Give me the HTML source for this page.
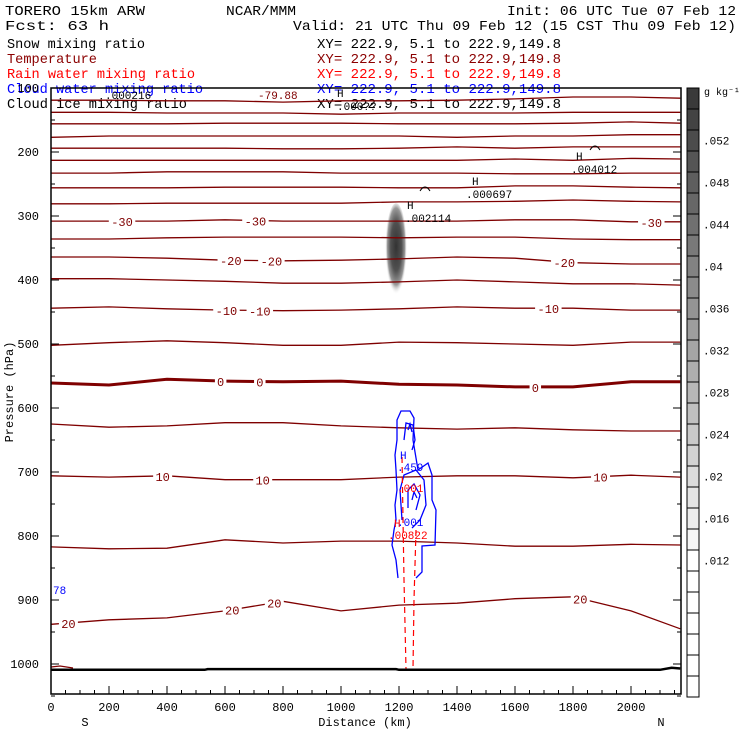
<!DOCTYPE html>
<html><head><meta charset="utf-8"><style>
html,body{margin:0;padding:0;background:#fff;}
svg{display:block;font-family:"Liberation Mono",monospace;}
</style></head><body>
<svg id="chart" width="740" height="740" viewBox="0 0 740 740" xmlns="http://www.w3.org/2000/svg">
<g font-size="14">
<text x="5" y="15" textLength="140" lengthAdjust="spacingAndGlyphs">TORERO  15km ARW</text>
<text x="226" y="15" textLength="70" lengthAdjust="spacingAndGlyphs">NCAR/MMM</text>
<text x="507" y="15" textLength="229" lengthAdjust="spacingAndGlyphs">Init: 06 UTC Tue 07 Feb 12</text>
<text x="5" y="30" textLength="104" lengthAdjust="spacingAndGlyphs">Fcst:   63 h</text>
<text x="293" y="30" textLength="443" lengthAdjust="spacingAndGlyphs">Valid: 21 UTC Thu 09 Feb 12 (15 CST Thu 09 Feb 12)</text>
<text x="7" y="48" textLength="138" lengthAdjust="spacingAndGlyphs">Snow mixing ratio</text>
<text x="317" y="48" textLength="244" lengthAdjust="spacingAndGlyphs">XY= 222.9,  5.1 to 222.9,149.8</text>
<text x="7" y="63" fill="#8b0000" textLength="90" lengthAdjust="spacingAndGlyphs">Temperature</text>
<text x="317" y="63" fill="#8b0000" textLength="244" lengthAdjust="spacingAndGlyphs">XY= 222.9,  5.1 to 222.9,149.8</text>
<text x="7" y="78" fill="#ff0000" textLength="188" lengthAdjust="spacingAndGlyphs">Rain water mixing ratio</text>
<text x="317" y="78" fill="#ff0000" textLength="244" lengthAdjust="spacingAndGlyphs">XY= 222.9,  5.1 to 222.9,149.8</text>
<text x="7" y="93" fill="#0000ff" textLength="196" lengthAdjust="spacingAndGlyphs">Cloud water mixing ratio</text>
<text x="317" y="93" fill="#0000ff" textLength="244" lengthAdjust="spacingAndGlyphs">XY= 222.9,  5.1 to 222.9,149.8</text>
<text x="7" y="108" textLength="180" lengthAdjust="spacingAndGlyphs">Cloud ice mixing ratio</text>
<text x="317" y="108" textLength="244" lengthAdjust="spacingAndGlyphs">XY= 222.9,  5.1 to 222.9,149.8</text>
</g>
<defs>
<radialGradient id="snowg" cx="0.5" cy="0.45" r="0.5">
<stop offset="0" stop-color="#333"/><stop offset="0.5" stop-color="#505050"/><stop offset="0.8" stop-color="#999"/><stop offset="1" stop-color="#fff" stop-opacity="0"/>
</radialGradient>
</defs>
<g id="plot"></g>
<g id="axes"></g>
<g id="cbar"></g>
</svg>
<script>
const NS="http://www.w3.org/2000/svg";
const distances=[0,200,400,600,800,1000,1200,1400,1600,1800,2000,2170];
const tempLevels=[-75,-70,-65,-60,-55,-50,-45,-40,-35,-30,-25,-20,-15,-10,-5,0,5,10,15,20];
const isoPressures=[
[119,119,120,120,122,120,120,119,117,114,114,116],
[138,138,139,139,139,141,139,139,139,138,138,138],
[156,156,156,155,155,155,156,156,156,155,153,155],
[177,175,175,175,175,175,175,177,175,175,173,173],
[194,194,194,194,195,195,194,192,194,192,192,192],
[213,213,213,213,213,213,213,213,211,213,210,211],
[233,233,231,231,231,233,233,233,234,234,233,233],
[256,256,256,255,255,255,256,256,253,253,255,256],
[281,281,280,280,280,280,278,278,277,275,277,278],
[308,308,308,306,308,308,308,308,306,306,309,309],
[336,336,334,333,333,333,334,333,333,336,337,337],
[364,364,366,369,370,369,367,364,366,373,375,375],
[398,398,400,402,405,405,403,400,403,406,406,408],
[444,442,445,447,448,447,445,442,444,444,447,447],
[502,498,495,498,502,502,497,498,500,502,497,497],
[561,564,555,558,559,558,563,564,567,567,559,559],
[625,630,628,623,623,628,631,633,631,634,636,636],
[706,708,706,712,712,712,708,706,706,709,705,708],
[817,820,819,806,811,808,808,811,816,816,813,814],
[938,931,928,917,902,917,908,905,898,895,917,945]];
const isoLabelTemp=[-30,-30,-30,-20,-20,-20,-10,-10,-10,0,0,0,10,10,10,20,20,20,20];
const isoLabelDist=[245,705,2070,620,760,1770,605,720,1715,585,720,1670,385,730,1895,60,625,770,1825];
const surfaceDist=[0,530,540,1190,1200,2100,2140,2170];
const surfaceP=[1009,1009,1008,1008,1009,1009,1006,1007];
const pTicks=[100,200,300,400,500,600,700,800,900,1000];
const dTicks=[0,200,400,600,800,1000,1200,1400,1600,1800,2000];
const cbarLabels=[".052",".048",".044",".04",".036",".032",".028",".024",".02",".016",".012"];
const cbarValues=[0.052,0.048,0.044,0.04,0.036,0.032,0.028,0.024,0.02,0.016,0.012];

const X0=51,X1=681,Y0=88,Y1=694;
const xS=d=>X0+d*0.29;
const yS=p=>Y0+(p-100)*0.64;
const plot=document.getElementById('plot'),axes=document.getElementById('axes'),cb=document.getElementById('cbar');
function mk(t,a,parent){const e=document.createElementNS(NS,t);for(const k in a)e.setAttribute(k,a[k]);(parent||plot).appendChild(e);return e;}
function interpP(i,d){const ds=distances,ps=isoPressures[i];for(let k=0;k<ds.length-1;k++){if(d>=ds[k]&&d<=ds[k+1]){const f=(d-ds[k])/(ds[k+1]-ds[k]);return ps[k]+f*(ps[k+1]-ps[k]);}}return ps[ps.length-1];}

const snow=mk('ellipse',{cx:xS(1190),cy:yS(355),rx:11,ry:48,fill:'url(#snowg)'});



tempLevels.forEach((t,i)=>{
  const pts=distances.map((d,k)=>xS(d).toFixed(1)+','+yS(isoPressures[i][k]).toFixed(1)).join(' ');
  const pl=mk('polyline',{points:pts,fill:'none',stroke:'#7f0000','stroke-width':t===0?3:1.3});
  
  
});
isoLabelTemp.forEach((t,j)=>{
  const i=tempLevels.indexOf(t),d=isoLabelDist[j],x=xS(d),y=yS(interpP(i,d));
  const s=String(t),w=s.length*7.5+4;
  const r=mk('rect',{x:x-w/2,y:y-6,width:w,height:12,fill:'#fff'});
  
  
  const tx=mk('text',{x:x,y:y+5,'text-anchor':'middle','font-size':12,fill:'#7f0000'});
  tx.textContent=s;
  
  
});

const cw=[
"398,578 396,560 392,545 394,530 396,520 395,505 397,490 396,470 395,455 397,440 397,420 401,411 410,411 414,418 413,440 418,470 428,463 432,475 432,500 436,510 435,545 422,546 422,572 416,578",
"404,440 406,423 413,425 415,440 412,450",
"408,430 410,424 412,432",
"402,520 400,490 404,475 416,470 424,480 426,505 420,520 412,528",
"408,508 408,490 414,484 420,495 416,510",
"412,500 414,492 417,498"];
cw.forEach((p,i)=>{const e=mk('polyline',{points:p,fill:'none',stroke:'#0000ff','stroke-width':1.3});

});
[["402,457 404,580 406,669"],["416,530 414,600 413,669"]].forEach(p=>{const e=mk('polyline',{points:p[0],fill:'none',stroke:'#ff0000','stroke-width':1.2,'stroke-dasharray':'6,4'});

});

const sp=surfaceDist.map((d,k)=>xS(d).toFixed(1)+','+yS(surfaceP[k]).toFixed(1)).join(' ');
const sf=mk('polyline',{points:sp,fill:'none',stroke:'#000','stroke-width':2.5});


const s25=mk('polyline',{points:"51,667 60,666 73,668",fill:'none',stroke:'#7f0000','stroke-width':1.2});



const ann=[[105,99,'.000216','#000'],[258,99,'-79.88','#7f0000'],[337,97,'H','#000'],[337,110,'.000??','#000'],
[407,209,'H','#000'],[405,222,'.002114','#000'],[472,185,'H','#000'],[466,198,'.000697','#000'],
[576,160,'H','#000'],[571,173,'.004012','#000'],[400,459,'H','#0000ff'],[397,471,'.459','#0000ff'],
[397,492,'.001','#ff0000'],[394,527,'H','#ff0000'],[397,526,'.001','#0000ff'],[388,539,'.00822','#ff0000'],[53,594,'78','#0000ff']];
ann.forEach(a=>{const t=mk('text',{x:a[0],y:a[1],'font-size':11,fill:a[3]});t.textContent=a[2];

});
[[595,148],[425,189]].forEach(c=>{const e=mk('path',{d:`M${c[0]-5},${c[1]+2} Q${c[0]},${c[1]-6} ${c[0]+5},${c[1]+2}`,fill:'none',stroke:'#000'});

});

const fr=mk('rect',{x:X0,y:Y0,width:X1-X0,height:Y1-Y0,fill:'none',stroke:'#000','stroke-width':1.5},axes);


for(let p=100;p<=1050;p+=50){const y=yS(p),L=p%100===0?8:4;
 const t1=mk('line',{x1:X0,x2:X0+L,y1:y,y2:y,stroke:'#000'},axes);
 
 
 const t2=mk('line',{x1:X1,x2:X1-L,y1:y,y2:y,stroke:'#000'},axes);
 
 }
pTicks.forEach(p=>{const t=mk('text',{x:39,y:yS(p)+4,'text-anchor':'end','font-size':12},axes);t.textContent=p;

});
for(let d=0;d<=2150;d+=50){const x=xS(d),L=d%200===0?8:4;
 const t=mk('line',{x1:x,x2:x,y1:Y1,y2:Y1-L,stroke:'#000'},axes);
 
 }
dTicks.forEach(d=>{const t=mk('text',{x:xS(d),y:711,'text-anchor':'middle','font-size':12},axes);t.textContent=d;

});
const yt=mk('text',{x:0,y:0,'font-size':12,'text-anchor':'middle',transform:'translate(13,392) rotate(-90)'},axes);yt.textContent='Pressure (hPa)';


const xt=mk('text',{x:365,y:726,'font-size':12,'text-anchor':'middle'},axes);xt.textContent='Distance (km)';


const sl=mk('text',{x:85,y:726,'font-size':12,'text-anchor':'middle'},axes);sl.textContent='S';


const nl=mk('text',{x:661,y:726,'font-size':12,'text-anchor':'middle'},axes);nl.textContent='N';



const CX=687,CW=12,pxPer=21/0.002;
const nb=29;
for(let k=0;k<nb;k++){
 const gv=Math.min(255,Math.round(58+(255-58)*Math.min(1,k/22)));
 const r=mk('rect',{x:CX,y:Y0+k*21,width:CW,height:21,fill:`rgb(${gv},${gv},${gv})`,stroke:'#000','stroke-width':1},cb);
 
 }
cbarValues.forEach((v,i)=>{const y=Y0+(0.0565-v)*pxPer+5;const t=mk('text',{x:703,y:y+4,'font-size':11},cb);t.textContent=cbarLabels[i];

});
const un=mk('text',{x:704,y:95,'font-size':10},cb);un.textContent='g kg⁻¹';


</script>
</body></html>
